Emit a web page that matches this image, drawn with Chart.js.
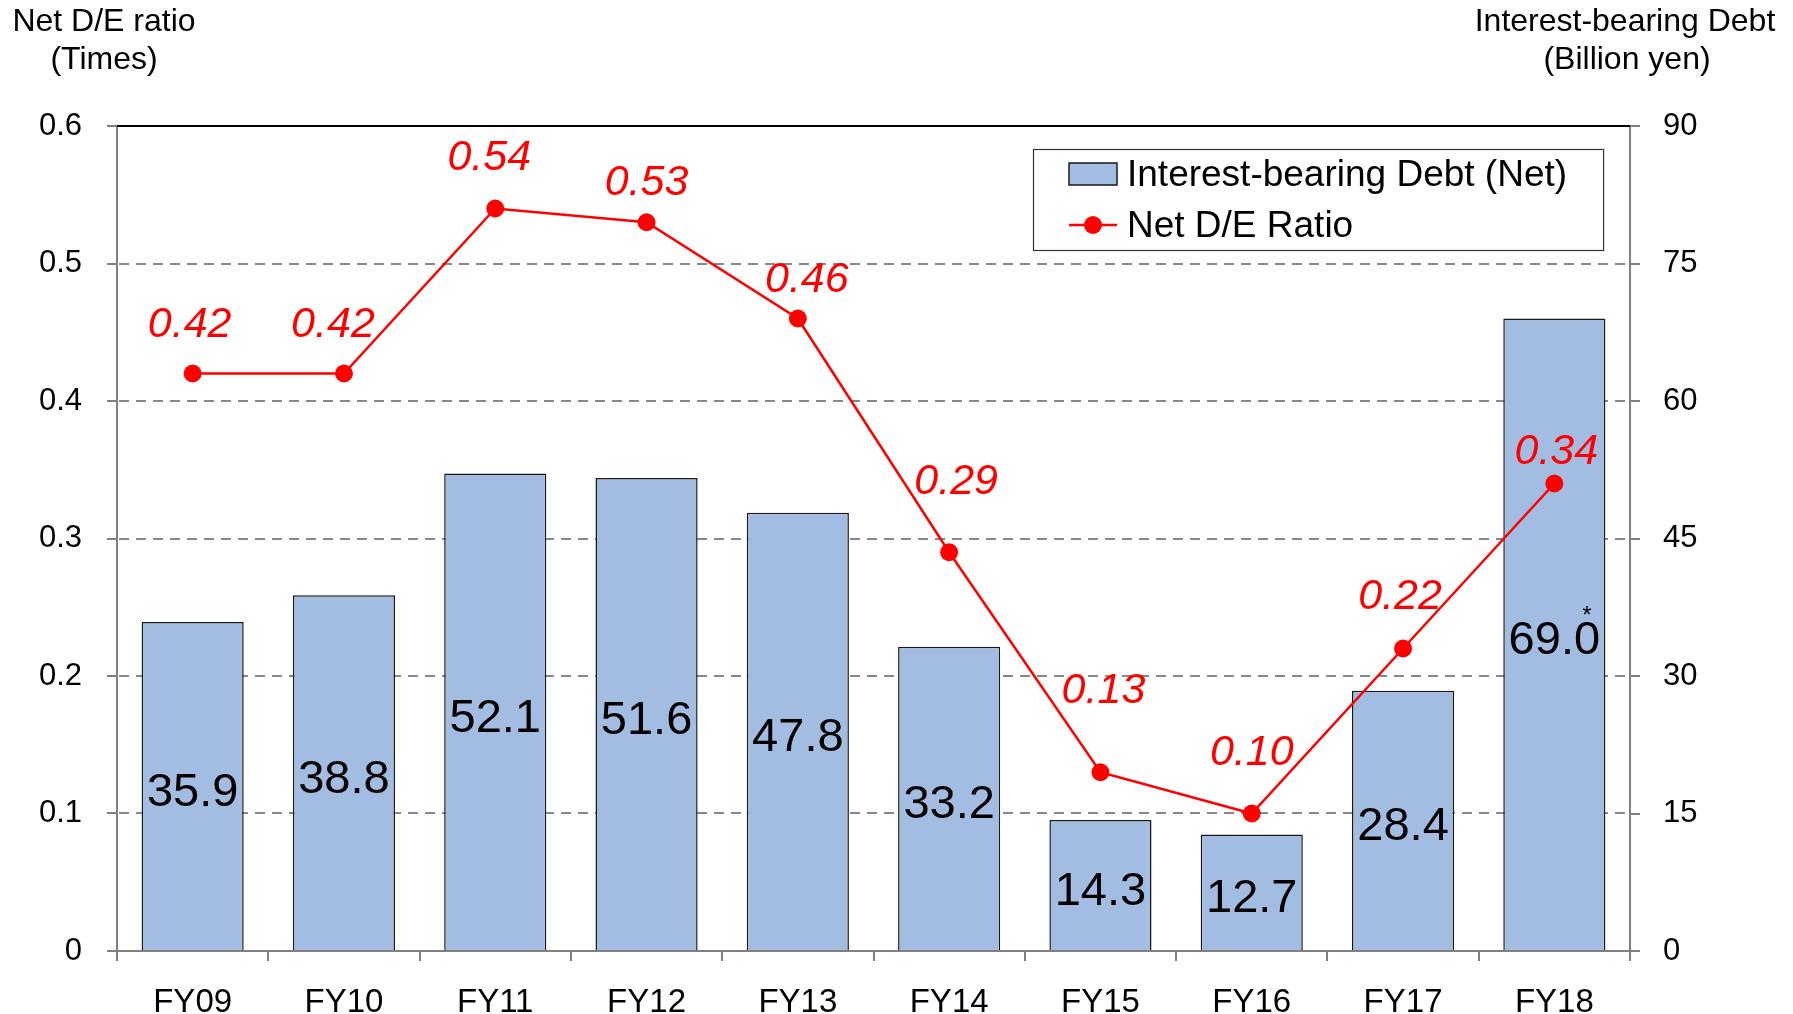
<!DOCTYPE html>
<html>
<head>
<meta charset="utf-8">
<script src="https://cdn.jsdelivr.net/npm/chart.js@4.4.0/dist/chart.umd.min.js"></script>
<style>
html,body{margin:0;padding:0;background:#fff;overflow:hidden}
#wrap{position:relative;width:1793px;height:1014px}
</style>
</head>
<body>
<div id="wrap"><canvas id="c" width="1793" height="1014"></canvas></div>
<script>
// ---- data ----
const categories = ['FY09','FY10','FY11','FY12','FY13','FY14','FY15','FY16','FY17','FY18'];
const debtValues = [35.9, 38.8, 52.1, 51.6, 47.8, 33.2, 14.3, 12.7, 28.4, 69.0];
const debtNotes  = ['', '', '', '', '', '', '', '', '', '*'];
const deRatio    = [0.42, 0.42, 0.54, 0.53, 0.46, 0.29, 0.13, 0.10, 0.22, 0.34];
const leftTicks  = [0, 0.1, 0.2, 0.3, 0.4, 0.5, 0.6];
const rightTicks = [0, 15, 30, 45, 60, 75, 90];
const leftTitle  = ['Net D/E ratio', '(Times)'];
const rightTitle = ['Interest-bearing Debt', '(Billion yen)'];
const debtLabel  = 'Interest-bearing Debt (Net)';
const ratioLabel = 'Net D/E Ratio';

// ---- styles ----
const FONT = '"Liberation Sans", Arial, sans-serif';
const BAR_COLOR = '#A3BCE2';
const RED = '#FF0000';
const AXIS_GREY = '#808080';
// label offsets (px) of ratio labels relative to their points
const ratioLabelOffsets = [[-3,48],[-11,48],[-6,50],[0,39],[9,38],[7,70],[3,81],[0,60],[-3,51],[2,31]];

const customDraw = {
  id: 'customDraw',
  beforeDatasetsDraw(chart) {
    const {ctx, chartArea: a, scales: {y}} = chart;
    ctx.save();
    ctx.strokeStyle = '#888888';
    ctx.lineWidth = 2.2;
    ctx.setLineDash([10, 7]);
    leftTicks.forEach(v => {
      if (v > 0 && v < leftTicks[leftTicks.length - 1]) {
        const py = Math.round(y.getPixelForValue(v));
        ctx.beginPath();
        ctx.moveTo(a.left + 2, py);
        ctx.lineTo(a.right - 1, py);
        ctx.stroke();
      }
    });
    ctx.setLineDash([]);
    ctx.strokeStyle = '#000';
    ctx.lineWidth = 2;
    const ty = Math.round(y.getPixelForValue(leftTicks[leftTicks.length - 1]));
    ctx.beginPath();
    ctx.moveTo(a.left, ty);
    ctx.lineTo(a.right, ty);
    ctx.stroke();
    ctx.restore();
  },
  afterDatasetsDraw(chart) {
    const {ctx} = chart;
    ctx.save();
    // bar value labels
    const barMeta = chart.getDatasetMeta(0);
    ctx.textAlign = 'center';
    ctx.textBaseline = 'middle';
    barMeta.data.forEach((el, i) => {
      const p = el.getProps(['x', 'y', 'base'], true);
      const cy = (p.y + p.base) / 2;
      const txt = debtValues[i].toFixed(1);
      ctx.font = '47px ' + FONT;
      ctx.fillStyle = '#000';
      ctx.fillText(txt, p.x, cy + 7);
      if (debtNotes[i]) {
        const w = ctx.measureText(txt).width;
        const lw = ctx.measureText(txt.slice(-1)).width;
        ctx.font = '24px ' + FONT;
        ctx.fillText(debtNotes[i], p.x + w / 2 - lw / 2, cy - 18);
      }
    });
    // ratio labels
    const lineMeta = chart.getDatasetMeta(1);
    ctx.font = 'italic 43px ' + FONT;
    ctx.fillStyle = RED;
    lineMeta.data.forEach((el, i) => {
      const p = el.getProps(['x', 'y'], true);
      const off = ratioLabelOffsets[i];
      ctx.fillText(deRatio[i].toFixed(2), p.x + off[0], p.y - off[1]);
    });
    // axis titles
    ctx.fillStyle = '#000';
    ctx.font = '32px ' + FONT;
    ctx.textAlign = 'center';
    ctx.fillText(leftTitle[0], 104, 22);
    ctx.fillText(leftTitle[1], 104, 60);
    ctx.fillText(rightTitle[0], 1625, 22);
    ctx.fillText(rightTitle[1], 1627, 60);
    // legend
    ctx.font = '37px ' + FONT;
    ctx.textAlign = 'left';
    const lx = 1033, ly = 149, lb = 250;
    const sx = 1069, sw = 48, tx = 1127;
    const tw = Math.max(ctx.measureText(debtLabel).width, ctx.measureText(ratioLabel).width);
    const lr = tx + tw + 36;
    ctx.fillStyle = '#fff';
    ctx.fillRect(lx, ly, lr - lx, lb - ly);
    ctx.strokeStyle = '#333';
    ctx.lineWidth = 1.2;
    ctx.strokeRect(lx + 0.5, ly + 0.5, lr - lx, lb - ly);
    const r1 = 174, r2 = 225;
    ctx.fillStyle = BAR_COLOR;
    ctx.fillRect(sx, r1 - 11, sw, 22);
    ctx.strokeStyle = '#1a1a1a';
    ctx.lineWidth = 1.5;
    ctx.strokeRect(sx, r1 - 11, sw, 22);
    ctx.fillStyle = '#000';
    ctx.fillText(debtLabel, tx, r1 + 2);
    ctx.strokeStyle = RED;
    ctx.lineWidth = 2.5;
    ctx.beginPath();
    ctx.moveTo(sx, r2);
    ctx.lineTo(sx + sw, r2);
    ctx.stroke();
    ctx.fillStyle = RED;
    ctx.beginPath();
    ctx.arc(sx + sw / 2, r2, 9, 0, Math.PI * 2);
    ctx.fill();
    ctx.fillStyle = '#000';
    ctx.fillText(ratioLabel, tx, r2 + 2);
    ctx.restore();
  }
};

new Chart(document.getElementById('c'), {
  data: {
    labels: categories,
    datasets: [
      {
        type: 'bar',
        label: debtLabel,
        data: debtValues,
        yAxisID: 'y1',
        backgroundColor: BAR_COLOR,
        borderColor: '#1a1a1a',
        borderWidth: 1.5,
        barPercentage: 0.675,
        categoryPercentage: 1.0,
        order: 1
      },
      {
        type: 'line',
        label: ratioLabel,
        data: deRatio,
        yAxisID: 'y',
        borderColor: RED,
        backgroundColor: RED,
        borderWidth: 2.5,
        pointRadius: 9,
        pointHoverRadius: 9,
        pointBackgroundColor: RED,
        pointBorderWidth: 0,
        tension: 0,
        order: 0
      }
    ]
  },
  options: {
    responsive: false,
    devicePixelRatio: 1,
    animation: false,
    layout: {padding: {top: 126, left: 0, right: 0, bottom: 0}},
    plugins: {legend: {display: false}, title: {display: false}, tooltip: {enabled: false}},
    scales: {
      x: {
        offset: true,
        grid: {offset: true, drawOnChartArea: false, drawTicks: true, tickLength: 10, color: AXIS_GREY, lineWidth: 2},
        border: {display: true, color: AXIS_GREY, width: 2},
        ticks: {color: '#000', font: {family: FONT, size: 33}, padding: 22, maxRotation: 0},
        afterFit(s) { s.height = 63; }
      },
      y: {
        position: 'left',
        min: leftTicks[0],
        max: leftTicks[leftTicks.length - 1],
        afterBuildTicks(s) { s.ticks = leftTicks.map(v => ({value: v})); },
        grid: {drawOnChartArea: false, drawTicks: true, tickLength: 10, color: AXIS_GREY, lineWidth: 2},
        border: {display: true, color: AXIS_GREY, width: 2},
        ticks: {color: '#000', font: {family: FONT, size: 31}, padding: 25,
          callback: v => (v === 0 ? '0' : Number(v).toFixed(1))},
        afterFit(s) { s.width = 117; }
      },
      y1: {
        position: 'right',
        min: rightTicks[0],
        max: rightTicks[rightTicks.length - 1],
        afterBuildTicks(s) { s.ticks = rightTicks.map(v => ({value: v})); },
        grid: {drawOnChartArea: false, drawTicks: true, tickLength: 10, color: AXIS_GREY, lineWidth: 2},
        border: {display: true, color: AXIS_GREY, width: 2},
        ticks: {color: '#000', font: {family: FONT, size: 31}, padding: 23,
          callback: v => String(v)},
        afterFit(s) { s.width = 163; }
      }
    }
  },
  plugins: [customDraw]
});
</script>
</body>
</html>
